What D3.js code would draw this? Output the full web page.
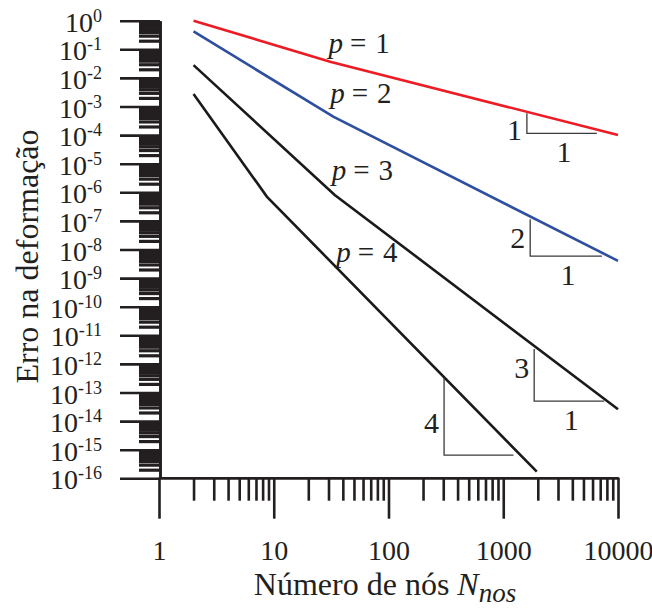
<!DOCTYPE html>
<html>
<head>
<meta charset="utf-8">
<script src="https://cdn.jsdelivr.net/npm/d3@7"></script>
<style>
  body { margin: 0; background: #fff; }
  text { font-family: "Liberation Serif", "Times New Roman", serif; fill: #231f20; }
</style>
</head>
<body>
<svg id="chart" width="652" height="610"></svg>
<script>
// curves: number of nodes vs strain error, one per order p
var nodes_p1 = [2, 31, 10000];
var err_p1 = [1.0, 3.7e-2, 1.0e-4];
var nodes_p2 = [2, 33, 10000];
var err_p2 = [4.2e-1, 4.4e-4, 4.0e-9];
var nodes_p3 = [2, 34, 10000];
var err_p3 = [2.8e-2, 8.1e-7, 2.6e-14];
var nodes_p4 = [2, 8.7, 1960];
var err_p4 = [2.75e-3, 7.1e-7, 1.7e-16];

var orders = [1, 2, 3, 4];
var colors = ["#ed1c24", "#2e4f9f", "#1a1a1a", "#1a1a1a"];

// label anchors "p = k" (in data units)
var label_n = [30, 31, 32, 35];
var label_err = [7.4e-2, 1.3e-3, 2.7e-6, 3.7e-9];

// slope triangles (data units): x0, x1, top, bottom, rise text
var tri_x0 = [1607, 1717, 1860, 305];
var tri_x1 = [6546, 7244, 7580, 1227];
var tri_top = [5.75e-4, 1.15e-7, 3.3e-12, 3.2e-13];
var tri_bot = [1.15e-4, 5.9e-9, 5.0e-14, 6.5e-16];
var tri_rise = ["1", "2", "3", "4"];
var tri_rise_at = [6.8e-5, 1.12e-8, 3.2e-13, 3.8e-15];

var x_ticks = [1, 10, 100, 1000, 10000];
var y_exps = d3.range(0, -17, -1);

var svg = d3.select("#chart");

var x = d3.scaleLog().domain([1, 10000]).range([159, 618]);
var y = d3.scaleLog().domain([1, 1e-16]).range([20.7, 478.3]);

var x_minor = [];
for (var k = 0; k < 4; k++) for (var m = 2; m <= 9; m++) x_minor.push(m * Math.pow(10, k));
var y_minor = [];
for (var k = -16; k < 0; k++) for (var m = 2; m <= 9; m++) y_minor.push(m * Math.pow(10, k));

// y axis
var yAxisMinor = svg.append("g").attr("transform", "translate(160,0)")
    .call(d3.axisLeft(y).tickValues(y_minor).tickSize(21).tickSizeOuter(0).tickFormat(""));
var yAxis = svg.append("g").attr("transform", "translate(160,0)")
    .call(d3.axisLeft(y).tickValues(y_exps.map(function(e) { return Math.pow(10, e); }))
        .tickSize(40).tickSizeOuter(0).tickFormat(""));

// x axis
var xAxisMinor = svg.append("g").attr("transform", "translate(0,477.7)")
    .call(d3.axisBottom(x).tickValues(x_minor).tickSize(23).tickSizeOuter(0).tickFormat(""));
var xAxis = svg.append("g").attr("transform", "translate(0,477.7)")
    .call(d3.axisBottom(x).tickValues(x_ticks).tickSize(41).tickSizeOuter(0)
        .tickPadding(21).tickFormat(d3.format("d")));

svg.selectAll(".domain, .tick line")
    .attr("stroke", "#231f20")
    .attr("stroke-width", 2.6);
yAxisMinor.selectAll(".tick line").attr("stroke-width", 3.2);

xAxis.selectAll(".tick text")
    .attr("font-family", "Liberation Serif")
    .attr("font-size", 28)
    .attr("fill", "#231f20");

// y tick labels 10^k
y_exps.forEach(function(e) {
    var t = svg.append("text")
        .attr("x", 102)
        .attr("y", y(Math.pow(10, e)) + 11)
        .attr("text-anchor", "end")
        .attr("font-size", 28);
    t.append("tspan").text("10");
    t.append("tspan").attr("dy", -10).attr("font-size", 18).text(e === 0 ? "0" : "-" + (-e));
});

// curves
var line = d3.line()
    .x(function(d) { return x(d[0]); })
    .y(function(d) { return y(d[1]); });

var series = [
    d3.zip(nodes_p1, err_p1),
    d3.zip(nodes_p2, err_p2),
    d3.zip(nodes_p3, err_p3),
    d3.zip(nodes_p4, err_p4)
];

series.forEach(function(s, i) {
    svg.append("path")
        .datum(s)
        .attr("d", line)
        .attr("fill", "none")
        .attr("stroke", colors[i])
        .attr("stroke-width", 2.6);
});

// p = k labels
orders.forEach(function(p, i) {
    var t = svg.append("text")
        .attr("x", x(label_n[i]))
        .attr("y", y(label_err[i]))
        .attr("font-size", 29);
    t.append("tspan").attr("font-style", "italic").text("p");
    t.append("tspan").attr("dx", 7).text("=");
    t.append("tspan").attr("dx", 9).text(p);
});

// slope triangles
orders.forEach(function(p, i) {
    var x0 = x(tri_x0[i]), x1 = x(tri_x1[i]);
    var yt = y(tri_top[i]), yb = y(tri_bot[i]);
    svg.append("path")
        .attr("d", "M" + x0 + "," + yt + "V" + yb + "H" + x1)
        .attr("fill", "none")
        .attr("stroke", "#3a3a3a")
        .attr("stroke-width", 1.3);
    svg.append("text")
        .attr("x", x0 - 5)
        .attr("y", y(tri_rise_at[i]))
        .attr("text-anchor", "end")
        .attr("font-size", 30)
        .text(tri_rise[i]);
    if (i < 3) {
        svg.append("text")
            .attr("x", (x0 + x1) / 2 + 2)
            .attr("y", yb + 29)
            .attr("text-anchor", "middle")
            .attr("font-size", 30)
            .text("1");
    }
});

// axis titles
var xt = svg.append("text")
    .attr("x", 385)
    .attr("y", 595)
    .attr("text-anchor", "middle")
    .attr("font-size", 32);
xt.append("tspan").text("Número de nós ");
xt.append("tspan").attr("font-style", "italic").text("N");
xt.append("tspan").attr("font-style", "italic").attr("font-size", 27).attr("dy", 7).text("nos");

svg.append("text")
    .attr("transform", "translate(38,256.5) rotate(-90)")
    .attr("text-anchor", "middle")
    .attr("font-size", 32)
    .text("Erro na deformação");
</script>
</body>
</html>
